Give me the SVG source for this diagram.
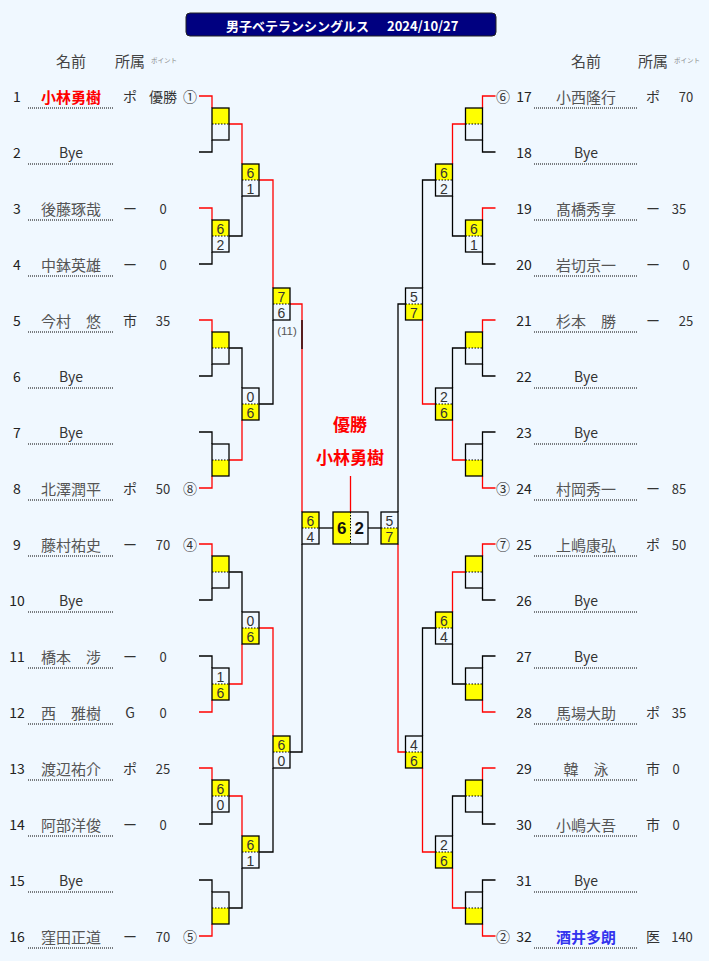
<svg xmlns="http://www.w3.org/2000/svg" width="709" height="961" viewBox="0 0 709 961">
<style>
text{font-family:"Noto Sans CJK JP","Noto Sans",sans-serif;text-anchor:middle;dominant-baseline:central}
.ln{fill:none;stroke-width:1.3}
.r{stroke:#ff0000}
.k{stroke:#000}
.bx{fill:none;stroke:#000;stroke-width:1.3}
.yl{fill:#ffff00}
.dt{stroke:#000;stroke-width:1;stroke-dasharray:1.5 1.5}
.ul{stroke:#000;stroke-width:1;stroke-dasharray:1 1}
.no{font-size:14px;fill:#222}
.nm{font-size:15px;fill:#555}
.bye{font-size:14px;fill:#333}
.win{font-size:15px;fill:#ff0000;font-weight:bold}
.blu{font-size:15px;fill:#3333ee;font-weight:bold}
.af{font-size:14px;fill:#333}
.pt{font-size:13px;fill:#333}
.sd{font-size:14px;fill:#333}
.sc{font-family:"Liberation Sans",Arial,sans-serif;font-size:14px;fill:#333}
.fs{font-family:"Liberation Sans",Arial,sans-serif;font-size:17px;fill:#111;font-weight:bold}
.hd{font-size:15px;fill:#444}
.pi{font-size:6.5px;fill:#888}
.ch{font-size:17px;fill:#ff0000;font-weight:bold}
.sm{font-family:"Liberation Sans",Arial,sans-serif;font-size:11.5px;fill:#555}
</style>
<rect class="bg" x="0" y="0" width="709" height="961" fill="#f0f8ff"/>

<g id="title">
<rect x="186" y="13" width="310" height="23" rx="4" fill="#000080" stroke="#222" stroke-width="1"/>
<text x="226" y="25" style="font-size:13px;fill:#fff;font-weight:bold;text-anchor:start">男子ベテランシングルス<tspan x="387">2024/10/27</tspan></text>
</g>

<g id="headers">
<text class="hd" x="71" y="60">名前</text>
<text class="hd" x="130" y="60">所属</text>
<text class="pi" x="164" y="60">ポイント</text>
<text class="hd" x="586" y="60">名前</text>
<text class="hd" x="653" y="60">所属</text>
<text class="pi" x="687" y="60">ポイント</text>
</g>

<g id="champion">
<text class="ch" x="350" y="423">優勝</text>
<text class="ch" x="350" y="456">小林勇樹</text>
</g>

<g id="connectors">
<path class="ln r" d="M199,96H212V108"/><path class="ln k" d="M199,152H212V140"/>
<path class="ln r" d="M199,208H212V220"/><path class="ln k" d="M199,264H212V252"/>
<path class="ln r" d="M199,320H212V332"/><path class="ln k" d="M199,376H212V364"/>
<path class="ln k" d="M199,432H212V444"/><path class="ln r" d="M199,488H212V476"/>
<path class="ln r" d="M199,544H212V556"/><path class="ln k" d="M199,600H212V588"/>
<path class="ln k" d="M199,656H212V668"/><path class="ln r" d="M199,712H212V700"/>
<path class="ln r" d="M199,768H212V780"/><path class="ln k" d="M199,824H212V812"/>
<path class="ln k" d="M199,880H212V892"/><path class="ln r" d="M199,936H212V924"/>
<path class="ln r" d="M229,124H242V164"/>
<path class="ln k" d="M229,236H242V196"/>
<path class="ln k" d="M229,348H242V388"/>
<path class="ln r" d="M229,460H242V420"/>
<path class="ln k" d="M229,572H242V612"/>
<path class="ln r" d="M229,684H242V644"/>
<path class="ln r" d="M229,796H242V836"/>
<path class="ln k" d="M229,908H242V868"/>
<path class="ln r" d="M259,180H273V288"/>
<path class="ln k" d="M259,404H273V320"/>
<path class="ln r" d="M259,628H273V736"/>
<path class="ln k" d="M259,852H273V768"/>
<path class="ln r" d="M290,304H302V512"/>
<path class="ln k" d="M302,320V349"/>
<path class="ln k" d="M290,752H302V544"/>
<path class="ln k" d="M319,528H333"/>
<path class="ln r" d="M350.5,512V476"/>
<path class="ln k" d="M368,528H381"/>
<path class="ln k" d="M405.5,304H398V512"/>
<path class="ln r" d="M405.5,752H398V544"/>
<path class="ln k" d="M435.5,180H422.5V288"/>
<path class="ln r" d="M435.5,404H422.5V320"/>
<path class="ln k" d="M435.5,628H422.5V736"/>
<path class="ln r" d="M435.5,852H422.5V768"/>
<path class="ln r" d="M465.5,124H452.5V164"/>
<path class="ln k" d="M465.5,236H452.5V196"/>
<path class="ln k" d="M465.5,348H452.5V388"/>
<path class="ln r" d="M465.5,460H452.5V420"/>
<path class="ln r" d="M465.5,572H452.5V612"/>
<path class="ln k" d="M465.5,684H452.5V644"/>
<path class="ln k" d="M465.5,796H452.5V836"/>
<path class="ln r" d="M465.5,908H452.5V868"/>
<path class="ln r" d="M495.5,96H482.5V108"/><path class="ln k" d="M495.5,152H482.5V140"/>
<path class="ln r" d="M495.5,208H482.5V220"/><path class="ln k" d="M495.5,264H482.5V252"/>
<path class="ln r" d="M495.5,320H482.5V332"/><path class="ln k" d="M495.5,376H482.5V364"/>
<path class="ln k" d="M495.5,432H482.5V444"/><path class="ln r" d="M495.5,488H482.5V476"/>
<path class="ln r" d="M495.5,544H482.5V556"/><path class="ln k" d="M495.5,600H482.5V588"/>
<path class="ln k" d="M495.5,656H482.5V668"/><path class="ln r" d="M495.5,712H482.5V700"/>
<path class="ln r" d="M495.5,768H482.5V780"/><path class="ln k" d="M495.5,824H482.5V812"/>
<path class="ln k" d="M495.5,880H482.5V892"/><path class="ln r" d="M495.5,936H482.5V924"/>
</g>

<defs>
<rect id="yt" class="yl" width="17" height="16"/>
<rect id="yb" class="yl" y="16" width="17" height="16"/>
<g id="frame"><rect class="bx" width="17" height="32"/><line class="dt" x1="0" y1="16" x2="17" y2="16"/></g>
</defs>

<g id="scores-left">
<g id="L-r1-1" transform="translate(212,108)"><use href="#yt"/><use href="#frame"/></g>
<g id="L-r1-2" transform="translate(212,220)"><use href="#yt"/><use href="#frame"/><text class="sc" x="8.5" y="8.5">6</text><text class="sc" x="8.5" y="24.5">2</text></g>
<g id="L-r1-3" transform="translate(212,332)"><use href="#yt"/><use href="#frame"/></g>
<g id="L-r1-4" transform="translate(212,444)"><use href="#yb"/><use href="#frame"/></g>
<g id="L-r1-5" transform="translate(212,556)"><use href="#yt"/><use href="#frame"/></g>
<g id="L-r1-6" transform="translate(212,668)"><use href="#yb"/><use href="#frame"/><text class="sc" x="8.5" y="8.5">1</text><text class="sc" x="8.5" y="24.5">6</text></g>
<g id="L-r1-7" transform="translate(212,780)"><use href="#yt"/><use href="#frame"/><text class="sc" x="8.5" y="8.5">6</text><text class="sc" x="8.5" y="24.5">0</text></g>
<g id="L-r1-8" transform="translate(212,892)"><use href="#yb"/><use href="#frame"/></g>
<g id="L-r2-1" transform="translate(242,164)"><use href="#yt"/><use href="#frame"/><text class="sc" x="8.5" y="8.5">6</text><text class="sc" x="8.5" y="24.5">1</text></g>
<g id="L-r2-2" transform="translate(242,388)"><use href="#yb"/><use href="#frame"/><text class="sc" x="8.5" y="8.5">0</text><text class="sc" x="8.5" y="24.5">6</text></g>
<g id="L-r2-3" transform="translate(242,612)"><use href="#yb"/><use href="#frame"/><text class="sc" x="8.5" y="8.5">0</text><text class="sc" x="8.5" y="24.5">6</text></g>
<g id="L-r2-4" transform="translate(242,836)"><use href="#yt"/><use href="#frame"/><text class="sc" x="8.5" y="8.5">6</text><text class="sc" x="8.5" y="24.5">1</text></g>
<g id="L-qf-1" transform="translate(273,288)"><use href="#yt"/><use href="#frame"/><text class="sc" x="8.5" y="8.5">7</text><text class="sc" x="8.5" y="24.5">6</text><text class="sm" x="14" y="43">(11)</text></g>
<g id="L-qf-2" transform="translate(273,736)"><use href="#yt"/><use href="#frame"/><text class="sc" x="8.5" y="8.5">6</text><text class="sc" x="8.5" y="24.5">0</text></g>
<g id="L-sf" transform="translate(302,512)"><use href="#yt"/><use href="#frame"/><text class="sc" x="8.5" y="8.5">6</text><text class="sc" x="8.5" y="24.5">4</text></g>
</g>

<g id="final" transform="translate(333,512)">
<rect class="yl" width="17.5" height="32"/>
<rect class="bx" width="35" height="32"/>
<line class="dt" x1="17.5" y1="0" x2="17.5" y2="32"/>
<text class="fs" x="8.7" y="16.5">6</text>
<text class="fs" x="26.3" y="16.5">2</text>
</g>

<g id="scores-right">
<g id="R-sf" transform="translate(381,512)"><use href="#yb"/><use href="#frame"/><text class="sc" x="8.5" y="8.5">5</text><text class="sc" x="8.5" y="24.5">7</text></g>
<g id="R-qf-1" transform="translate(405.5,288)"><use href="#yb"/><use href="#frame"/><text class="sc" x="8.5" y="8.5">5</text><text class="sc" x="8.5" y="24.5">7</text></g>
<g id="R-qf-2" transform="translate(405.5,736)"><use href="#yb"/><use href="#frame"/><text class="sc" x="8.5" y="8.5">4</text><text class="sc" x="8.5" y="24.5">6</text></g>
<g id="R-r2-1" transform="translate(435.5,164)"><use href="#yt"/><use href="#frame"/><text class="sc" x="8.5" y="8.5">6</text><text class="sc" x="8.5" y="24.5">2</text></g>
<g id="R-r2-2" transform="translate(435.5,388)"><use href="#yb"/><use href="#frame"/><text class="sc" x="8.5" y="8.5">2</text><text class="sc" x="8.5" y="24.5">6</text></g>
<g id="R-r2-3" transform="translate(435.5,612)"><use href="#yt"/><use href="#frame"/><text class="sc" x="8.5" y="8.5">6</text><text class="sc" x="8.5" y="24.5">4</text></g>
<g id="R-r2-4" transform="translate(435.5,836)"><use href="#yb"/><use href="#frame"/><text class="sc" x="8.5" y="8.5">2</text><text class="sc" x="8.5" y="24.5">6</text></g>
<g id="R-r1-1" transform="translate(465.5,108)"><use href="#yt"/><use href="#frame"/></g>
<g id="R-r1-2" transform="translate(465.5,220)"><use href="#yt"/><use href="#frame"/><text class="sc" x="8.5" y="8.5">6</text><text class="sc" x="8.5" y="24.5">1</text></g>
<g id="R-r1-3" transform="translate(465.5,332)"><use href="#yt"/><use href="#frame"/></g>
<g id="R-r1-4" transform="translate(465.5,444)"><use href="#yb"/><use href="#frame"/></g>
<g id="R-r1-5" transform="translate(465.5,556)"><use href="#yt"/><use href="#frame"/></g>
<g id="R-r1-6" transform="translate(465.5,668)"><use href="#yb"/><use href="#frame"/></g>
<g id="R-r1-7" transform="translate(465.5,780)"><use href="#yt"/><use href="#frame"/></g>
<g id="R-r1-8" transform="translate(465.5,892)"><use href="#yb"/><use href="#frame"/></g>
</g>

<g id="players-left">
<g id="p1"><text class="no" x="17" y="96">1</text><text class="win" x="71" y="96">小林勇樹</text><line class="ul" x1="28" y1="108" x2="113" y2="108"/><text class="af" x="130" y="96">ポ</text><text class="af" x="163" y="96">優勝</text><text class="sd" x="190" y="96">①</text></g>
<g id="p2"><text class="no" x="17" y="152">2</text><text class="bye" x="71" y="152">Bye</text><line class="ul" x1="28" y1="164" x2="113" y2="164"/></g>
<g id="p3"><text class="no" x="17" y="208">3</text><text class="nm" x="71" y="208">後藤琢哉</text><line class="ul" x1="28" y1="220" x2="113" y2="220"/><text class="af" x="130" y="208">ー</text><text class="pt" x="163" y="208">0</text></g>
<g id="p4"><text class="no" x="17" y="264">4</text><text class="nm" x="71" y="264">中鉢英雄</text><line class="ul" x1="28" y1="276" x2="113" y2="276"/><text class="af" x="130" y="264">ー</text><text class="pt" x="163" y="264">0</text></g>
<g id="p5"><text class="no" x="17" y="320">5</text><text class="nm" x="71" y="320">今村　悠</text><line class="ul" x1="28" y1="332" x2="113" y2="332"/><text class="af" x="130" y="320">市</text><text class="pt" x="163" y="320">35</text></g>
<g id="p6"><text class="no" x="17" y="376">6</text><text class="bye" x="71" y="376">Bye</text><line class="ul" x1="28" y1="388" x2="113" y2="388"/></g>
<g id="p7"><text class="no" x="17" y="432">7</text><text class="bye" x="71" y="432">Bye</text><line class="ul" x1="28" y1="444" x2="113" y2="444"/></g>
<g id="p8"><text class="no" x="17" y="488">8</text><text class="nm" x="71" y="488">北澤潤平</text><line class="ul" x1="28" y1="500" x2="113" y2="500"/><text class="af" x="130" y="488">ポ</text><text class="pt" x="163" y="488">50</text><text class="sd" x="190" y="488">⑧</text></g>
<g id="p9"><text class="no" x="17" y="544">9</text><text class="nm" x="71" y="544">藤村祐史</text><line class="ul" x1="28" y1="556" x2="113" y2="556"/><text class="af" x="130" y="544">ー</text><text class="pt" x="163" y="544">70</text><text class="sd" x="190" y="544">④</text></g>
<g id="p10"><text class="no" x="17" y="600">10</text><text class="bye" x="71" y="600">Bye</text><line class="ul" x1="28" y1="612" x2="113" y2="612"/></g>
<g id="p11"><text class="no" x="17" y="656">11</text><text class="nm" x="71" y="656">橋本　涉</text><line class="ul" x1="28" y1="668" x2="113" y2="668"/><text class="af" x="130" y="656">ー</text><text class="pt" x="163" y="656">0</text></g>
<g id="p12"><text class="no" x="17" y="712">12</text><text class="nm" x="71" y="712">西　雅樹</text><line class="ul" x1="28" y1="724" x2="113" y2="724"/><text class="af" x="130" y="712">G</text><text class="pt" x="163" y="712">0</text></g>
<g id="p13"><text class="no" x="17" y="768">13</text><text class="nm" x="71" y="768">渡辺祐介</text><line class="ul" x1="28" y1="780" x2="113" y2="780"/><text class="af" x="130" y="768">ポ</text><text class="pt" x="163" y="768">25</text></g>
<g id="p14"><text class="no" x="17" y="824">14</text><text class="nm" x="71" y="824">阿部洋俊</text><line class="ul" x1="28" y1="836" x2="113" y2="836"/><text class="af" x="130" y="824">ー</text><text class="pt" x="163" y="824">0</text></g>
<g id="p15"><text class="no" x="17" y="880">15</text><text class="bye" x="71" y="880">Bye</text><line class="ul" x1="28" y1="892" x2="113" y2="892"/></g>
<g id="p16"><text class="no" x="17" y="936">16</text><text class="nm" x="71" y="936">窪田正道</text><line class="ul" x1="28" y1="948" x2="113" y2="948"/><text class="af" x="130" y="936">ー</text><text class="pt" x="163" y="936">70</text><text class="sd" x="190" y="936">⑤</text></g>
</g>

<g id="players-right">
<g id="p17"><text class="sd" x="503" y="96">⑥</text><text class="no" x="524" y="96">17</text><text class="nm" x="586" y="96">小西隆行</text><line class="ul" x1="534" y1="108" x2="637" y2="108"/><text class="af" x="653" y="96">ポ</text><text class="pt" x="686" y="96">70</text></g>
<g id="p18"><text class="no" x="524" y="152">18</text><text class="bye" x="586" y="152">Bye</text><line class="ul" x1="534" y1="164" x2="637" y2="164"/></g>
<g id="p19"><text class="no" x="524" y="208">19</text><text class="nm" x="586" y="208">髙橋秀享</text><line class="ul" x1="534" y1="220" x2="637" y2="220"/><text class="af" x="653" y="208">ー</text><text class="pt" x="679" y="208">35</text></g>
<g id="p20"><text class="no" x="524" y="264">20</text><text class="nm" x="586" y="264">岩切京一</text><line class="ul" x1="534" y1="276" x2="637" y2="276"/><text class="af" x="653" y="264">ー</text><text class="pt" x="686" y="264">0</text></g>
<g id="p21"><text class="no" x="524" y="320">21</text><text class="nm" x="586" y="320">杉本　勝</text><line class="ul" x1="534" y1="332" x2="637" y2="332"/><text class="af" x="653" y="320">ー</text><text class="pt" x="686" y="320">25</text></g>
<g id="p22"><text class="no" x="524" y="376">22</text><text class="bye" x="586" y="376">Bye</text><line class="ul" x1="534" y1="388" x2="637" y2="388"/></g>
<g id="p23"><text class="no" x="524" y="432">23</text><text class="bye" x="586" y="432">Bye</text><line class="ul" x1="534" y1="444" x2="637" y2="444"/></g>
<g id="p24"><text class="sd" x="503" y="488">③</text><text class="no" x="524" y="488">24</text><text class="nm" x="586" y="488">村岡秀一</text><line class="ul" x1="534" y1="500" x2="637" y2="500"/><text class="af" x="653" y="488">ー</text><text class="pt" x="679" y="488">85</text></g>
<g id="p25"><text class="sd" x="503" y="544">⑦</text><text class="no" x="524" y="544">25</text><text class="nm" x="586" y="544">上嶋康弘</text><line class="ul" x1="534" y1="556" x2="637" y2="556"/><text class="af" x="653" y="544">ポ</text><text class="pt" x="679" y="544">50</text></g>
<g id="p26"><text class="no" x="524" y="600">26</text><text class="bye" x="586" y="600">Bye</text><line class="ul" x1="534" y1="612" x2="637" y2="612"/></g>
<g id="p27"><text class="no" x="524" y="656">27</text><text class="bye" x="586" y="656">Bye</text><line class="ul" x1="534" y1="668" x2="637" y2="668"/></g>
<g id="p28"><text class="no" x="524" y="712">28</text><text class="nm" x="586" y="712">馬場大助</text><line class="ul" x1="534" y1="724" x2="637" y2="724"/><text class="af" x="653" y="712">ポ</text><text class="pt" x="679" y="712">35</text></g>
<g id="p29"><text class="no" x="524" y="768">29</text><text class="nm" x="586" y="768">韓　泳</text><line class="ul" x1="534" y1="780" x2="637" y2="780"/><text class="af" x="653" y="768">市</text><text class="pt" x="676" y="768">0</text></g>
<g id="p30"><text class="no" x="524" y="824">30</text><text class="nm" x="586" y="824">小嶋大吾</text><line class="ul" x1="534" y1="836" x2="637" y2="836"/><text class="af" x="653" y="824">市</text><text class="pt" x="676" y="824">0</text></g>
<g id="p31"><text class="no" x="524" y="880">31</text><text class="bye" x="586" y="880">Bye</text><line class="ul" x1="534" y1="892" x2="637" y2="892"/></g>
<g id="p32"><text class="sd" x="503" y="936">②</text><text class="no" x="524" y="936">32</text><text class="blu" x="586" y="936">酒井多朗</text><line class="ul" x1="534" y1="948" x2="637" y2="948"/><text class="af" x="653" y="936">医</text><text class="pt" x="682" y="936">140</text></g>
</g>
</svg>
